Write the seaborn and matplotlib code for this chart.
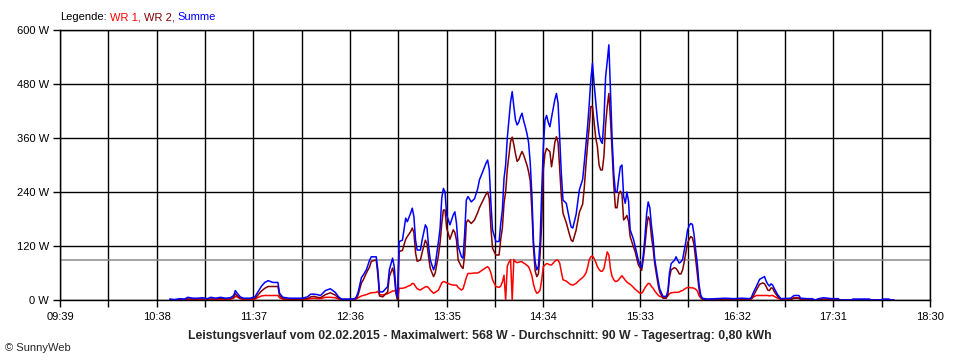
import matplotlib
matplotlib.use("Agg")
import matplotlib.pyplot as plt
import numpy as np
import pandas as pd
import seaborn as sns

uhrzeit = [
    "10:46", "10:49", "10:52", "10:55", "10:57", "11:00", "11:03", "11:06", "11:09", "11:11",
    "11:14", "11:17", "11:20", "11:23", "11:25", "11:26", "11:27", "11:29", "11:31", "11:35",
    "11:38", "11:40", "11:42", "11:44", "11:46", "11:49", "11:52", "11:53", "11:55", "11:59",
    "12:04", "12:07", "12:10", "12:12", "12:14", "12:16", "12:18", "12:21", "12:24", "12:27",
    "12:29", "12:31", "12:36", "12:39", "12:40", "12:41", "12:43", "12:44", "12:46", "12:48",
    "12:49", "12:52", "12:53", "12:54", "12:56", "12:59", "13:00", "13:02", "13:03", "13:04",
    "13:05", "13:06", "13:08", "13:10", "13:11", "13:13", "13:14", "13:15", "13:16", "13:17",
    "13:19", "13:20", "13:22", "13:23", "13:24", "13:25", "13:27", "13:28", "13:30", "13:31",
    "13:32", "13:33", "13:34", "13:35", "13:37", "13:39", "13:40", "13:41", "13:42", "13:44",
    "13:45", "13:46", "13:47", "13:48", "13:50", "13:52", "13:54", "13:55", "13:57", "13:59",
    "14:00", "14:01", "14:02", "14:03", "14:05", "14:07", "14:08", "14:09", "14:10", "14:11",
    "14:12", "14:13", "14:14", "14:15", "14:16", "14:17", "14:18", "14:19", "14:20", "14:21",
    "14:22", "14:23", "14:24", "14:25", "14:26", "14:27", "14:28", "14:29", "14:30", "14:31",
    "14:32", "14:33", "14:34", "14:35", "14:36", "14:37", "14:38", "14:39", "14:40", "14:41",
    "14:42", "14:43", "14:44", "14:45", "14:46", "14:48", "14:50", "14:51", "14:52", "14:54",
    "14:56", "14:58", "14:59", "15:00", "15:01", "15:02", "15:03", "15:04", "15:05", "15:06",
    "15:07", "15:08", "15:09", "15:10", "15:11", "15:12", "15:13", "15:14", "15:15", "15:16",
    "15:17", "15:18", "15:19", "15:20", "15:21", "15:22", "15:23", "15:24", "15:25", "15:26",
    "15:27", "15:29", "15:30", "15:32", "15:33", "15:34", "15:35", "15:36", "15:37", "15:38",
    "15:39", "15:40", "15:41", "15:42", "15:44", "15:45", "15:47", "15:49", "15:50", "15:51",
    "15:52", "15:54", "15:55", "15:56", "15:57", "15:58", "15:59", "16:00", "16:01", "16:02",
    "16:03", "16:04", "16:05", "16:06", "16:07", "16:08", "16:09", "16:10", "16:11", "16:14",
    "16:20", "16:25", "16:30", "16:35", "16:40", "16:41", "16:42", "16:44", "16:46", "16:48",
    "16:49", "16:50", "16:51", "16:52", "16:53", "16:54", "16:55", "16:57", "16:59", "17:05",
    "17:07", "17:10", "17:11", "17:15", "17:18", "17:20", "17:22", "17:25", "17:30", "17:34",
    "17:35", "17:42", "17:43", "17:50", "17:53", "17:54", "18:00", "18:01", "18:05", "18:06",
    "18:08",
]
wr1 = [
    1, 0, 1, 1, 2, 1, 1, 2, 1, 2,
    1, 2, 1, 2, 4, 8, 7, 3, 1, 1,
    2, 6, 9, 10, 10, 10, 10, 5, 2, 1,
    1, 1, 2, 3, 4, 3, 3, 6, 6, 5,
    2, 1, 1, 1, 3, 5, 9, 10, 12, 15,
    16, 17, 19, 12, 11, 14, 16, 20, 20, 22,
    0, 26, 26, 28, 30, 33, 37, 36, 30, 25,
    22, 25, 29, 30, 27, 22, 15, 17, 22, 30,
    38, 41, 40, 38, 35, 33, 33, 33, 28, 22,
    25, 37, 50, 59, 59, 60, 60, 62, 67, 72,
    74, 70, 60, 45, 30, 28, 31, 40, 55, 0,
    75, 84, 90, 0, 90, 85, 83, 84, 85, 85,
    82, 80, 77, 74, 65, 54, 35, 22, 15, 17,
    22, 45, 74, 78, 81, 80, 78, 78, 82, 86,
    89, 88, 82, 62, 45, 42, 36, 34, 33, 37,
    44, 50, 54, 60, 72, 89, 96, 98, 92, 84,
    74, 68, 64, 64, 70, 88, 107, 100, 68, 52,
    45, 41, 42, 45, 50, 54, 49, 44, 40, 37,
    35, 28, 24, 18, 15, 15, 20, 27, 32, 37,
    36, 30, 26, 20, 11, 8, 6, 6, 9, 14,
    16, 17, 17, 17, 18, 20, 21, 24, 26, 28,
    28, 27, 27, 26, 24, 20, 10, 5, 3, 1,
    1, 2, 1, 1, 1, 2, 6, 10, 10, 10,
    10, 10, 10, 9, 10, 10, 8, 4, 1, 1,
    5, 5, 2, 1, 1, 0, 1, 1, 1, 1,
    0, 0, 0, 0, 0, 0, 0, 0, 0, 0,
    0,
]
wr2 = [
    1, 0, 1, 1, 2, 2, 2, 2, 1, 2,
    2, 3, 2, 2, 6, 14, 10, 4, 2, 2,
    3, 12, 20, 26, 30, 30, 30, 10, 3, 1,
    1, 2, 3, 7, 8, 6, 5, 12, 16, 11,
    4, 1, 1, 1, 4, 12, 38, 44, 60, 74,
    86, 89, 56, 9, 7, 18, 52, 71, 55, 15,
    0, 108, 110, 135, 141, 152, 160, 150, 105, 86,
    89, 105, 133, 125, 95, 70, 52, 60, 100, 128,
    170, 200, 200, 160, 135, 156, 150, 133, 89, 74,
    70, 100, 172, 178, 170, 178, 195, 205, 220, 235,
    240, 225, 160, 115, 100, 100, 135, 160, 215, 240,
    290, 320, 352, 362, 345, 325, 308, 312, 322, 330,
    322, 311, 300, 285, 265, 200, 115, 65, 52, 58,
    100, 170, 290, 325, 337, 333, 330, 296, 320, 350,
    363, 350, 290, 230, 193, 172, 145, 133, 130, 155,
    195, 213, 250, 300, 345, 385, 430, 430, 395, 360,
    341, 300, 289, 289, 320, 390, 430, 459, 400, 326,
    255, 205, 205, 235, 242, 235, 178, 182, 188, 175,
    141, 118, 108, 78, 72, 66, 90, 120, 160, 185,
    178, 140, 115, 80, 35, 18, 4, 4, 12, 50,
    67, 72, 70, 65, 58, 58, 67, 85, 105, 126,
    135, 141, 138, 122, 90, 60, 25, 6, 2, 1,
    1, 2, 1, 2, 1, 3, 8, 22, 35, 38,
    36, 30, 22, 21, 27, 26, 18, 8, 1, 1,
    4, 4, 1, 1, 1, 0, 1, 2, 1, 1,
    0, 0, 1, 1, 1, 0, 0, 1, 1, 0,
    0,
]
summe = [
    2, 1, 3, 2, 6, 4, 4, 5, 3, 6,
    4, 6, 4, 5, 10, 21, 16, 7, 4, 4,
    7, 19, 31, 39, 43, 39, 39, 15, 6, 4,
    4, 4, 7, 13, 13, 12, 10, 21, 25, 17,
    7, 2, 2, 3, 8, 18, 50, 55, 67, 89,
    96, 96, 67, 18, 18, 30, 67, 93, 74, 25,
    5, 130, 133, 182, 174, 193, 204, 185, 133, 111,
    111, 133, 167, 160, 118, 89, 67, 78, 130, 160,
    226, 248, 240, 189, 167, 189, 196, 170, 120, 96,
    93, 148, 222, 230, 218, 225, 248, 267, 285, 304,
    311, 290, 215, 156, 130, 130, 170, 200, 270, 300,
    360, 400, 440, 463, 430, 400, 389, 395, 407, 415,
    398, 385, 370, 350, 305, 235, 130, 85, 67, 75,
    130, 240, 340, 400, 410, 395, 385, 405, 425, 445,
    459, 437, 360, 280, 222, 215, 178, 162, 160, 190,
    245, 268, 305, 345, 385, 435, 490, 526, 480, 440,
    400, 370, 354, 348, 400, 496, 530, 567, 460, 356,
    280, 240, 240, 270, 296, 300, 230, 215, 240, 220,
    156, 135, 120, 88, 78, 72, 100, 140, 190, 218,
    205, 165, 135, 90, 45, 25, 8, 8, 20, 60,
    81, 88, 96, 88, 82, 85, 90, 110, 130, 155,
    165, 170, 168, 145, 110, 80, 35, 12, 4, 2,
    3, 4, 3, 4, 3, 6, 15, 30, 46, 50,
    52, 42, 35, 31, 36, 33, 25, 12, 3, 4,
    10, 10, 4, 3, 3, 0, 3, 5, 3, 3,
    0, 0, 2, 2, 2, 0, 0, 2, 2, 0,
    0,
]
durchschnitt = 90
y_ticks = [0, 120, 240, 360, 480, 600]
x_ticklabels = ["09:39", "10:38", "11:37", "12:36", "13:35", "14:34", "15:33", "16:32", "17:31", "18:30"]
farben = {"WR 1": "#ff0000", "WR 2": "#800000", "Summe": "#0000ff"}
titel = "Leistungsverlauf vom 02.02.2015 - Maximalwert: 568 W - Durchschnitt: 90 W - Tagesertrag: 0,80 kWh"


###### Daten vorbereiten
df = pd.DataFrame({"uhrzeit": uhrzeit, "WR 1": wr1, "WR 2": wr2, "Summe": summe})
df["minute"] = pd.to_timedelta(df["uhrzeit"] + ":00").dt.total_seconds() / 60
lang = df.melt(id_vars=["uhrzeit", "minute"], value_vars=["WR 1", "WR 2", "Summe"],
               var_name="serie", value_name="leistung")

x_pos = [int(t[:2]) * 60 + int(t[3:]) for t in x_ticklabels]
x_minor = [(a + b) / 2 for a, b in zip(x_pos[:-1], x_pos[1:])]


###### Plot
sns.set_theme(style="white")
plt.rcParams['font.family'] = ['Liberation Sans', 'DejaVu Sans']

fig = plt.figure(figsize=(9.6, 3.6), dpi=100)
ax = fig.add_axes([60 / 960, 60 / 360, 870 / 960, 270 / 360])

ax.axhline(durchschnitt, color="#8c8c8c", lw=1.1, zorder=1)
sns.lineplot(data=lang, x="minute", y="leistung", hue="serie", hue_order=["WR 1", "WR 2", "Summe"],
             palette=farben, linewidth=1.1, legend=False, ax=ax, zorder=3)

ax.set_xlim(x_pos[0], x_pos[-1])
ax.set_ylim(0, 600)
ax.set_xticks(x_pos)
ax.set_xticklabels(x_ticklabels)
ax.set_xticks(x_minor, minor=True)
ax.set_yticks(y_ticks)
ax.set_yticklabels([f"{v} W" for v in y_ticks])
ax.set_xlabel("")
ax.set_ylabel("")

ax.grid(True, which="major", axis="both", color="black", lw=1)
ax.grid(True, which="minor", axis="x", color="black", lw=1)
ax.set_axisbelow(True)
for s in ax.spines.values():
    s.set_color("black")
    s.set_linewidth(1)
ax.tick_params(axis="both", which="both", direction="out", color="black", length=5, width=1,
               labelsize=8, labelcolor="black", bottom=True, left=True)
ax.tick_params(axis="x", which="both", pad=4)
ax.tick_params(axis="y", pad=3)

fig.text(480 / 960, 1 - 336 / 360, titel, ha="center", va="center", fontsize=8.8, fontweight="bold")
fig.text(5 / 960, 1 - 348 / 360, "© SunnyWeb", ha="left", va="center", fontsize=8)

### Legende oben links, farbig
fig.canvas.draw()
r = fig.canvas.get_renderer()
x0 = 60
for txt, col in [("Legende:", "black"), ("WR 1,", farben["WR 1"]), ("WR 2,", farben["WR 2"]), ("Summe", farben["Summe"])]:
    t = fig.text(x0 / 960, 1 - 17 / 360, txt, color=col, fontsize=8, ha="left", va="center")
    bb = t.get_window_extent(r)
    x0 = bb.x1 + 3

fig.savefig("out.png", dpi=100)
